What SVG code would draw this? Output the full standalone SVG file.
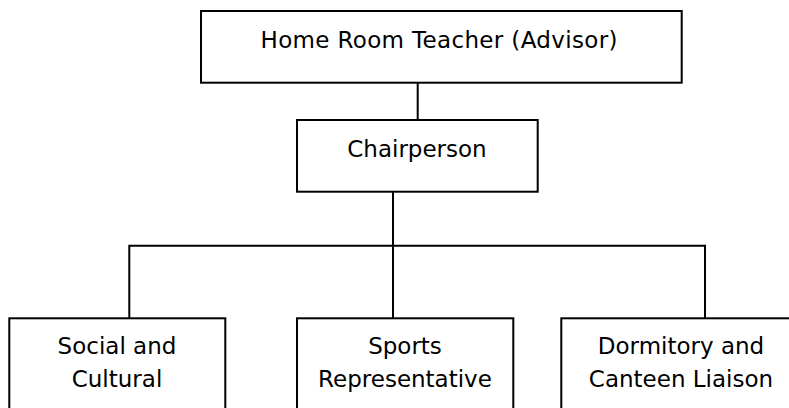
<svg xmlns="http://www.w3.org/2000/svg" width="789" height="408" viewBox="0 0 789 408">
<style>
.box{fill:#fff;stroke:#000;stroke-width:2}
.ln{fill:none;stroke:#000;stroke-width:2}
text{font-family:"DejaVu Sans",Verdana,sans-serif;font-size:23px;fill:#000;text-anchor:middle}
</style>
<rect width="789" height="408" fill="#fff"/>
<g id="connectors">
<line class="ln" x1="417.7" y1="82.7" x2="417.7" y2="120"/>
<line class="ln" x1="393" y1="191.7" x2="393" y2="318.3"/>
<polyline class="ln" points="129.3,318.3 129.3,245.7 705,245.7 705,318.3"/>
</g>
<g id="advisor">
<rect class="box" x="201" y="11" width="480.7" height="71.7"/>
<text x="439" y="48" textLength="357" lengthAdjust="spacing">Home Room Teacher (Advisor)</text>
</g>
<g id="chairperson">
<rect class="box" x="297" y="120" width="240.7" height="71.7"/>
<text x="417" y="157">Chairperson</text>
</g>
<g id="social">
<rect class="box" x="9.3" y="318.3" width="216" height="100"/>
<text x="117" y="354">Social and</text>
<text x="117" y="387">Cultural</text>
</g>
<g id="sports">
<rect class="box" x="297" y="318.3" width="216.3" height="100"/>
<text x="405" y="354">Sports</text>
<text x="405" y="387">Representative</text>
</g>
<g id="dormitory">
<rect class="box" x="561.3" y="318.3" width="240" height="100"/>
<text x="681" y="354">Dormitory and</text>
<text x="681" y="387">Canteen Liaison</text>
</g>
</svg>
